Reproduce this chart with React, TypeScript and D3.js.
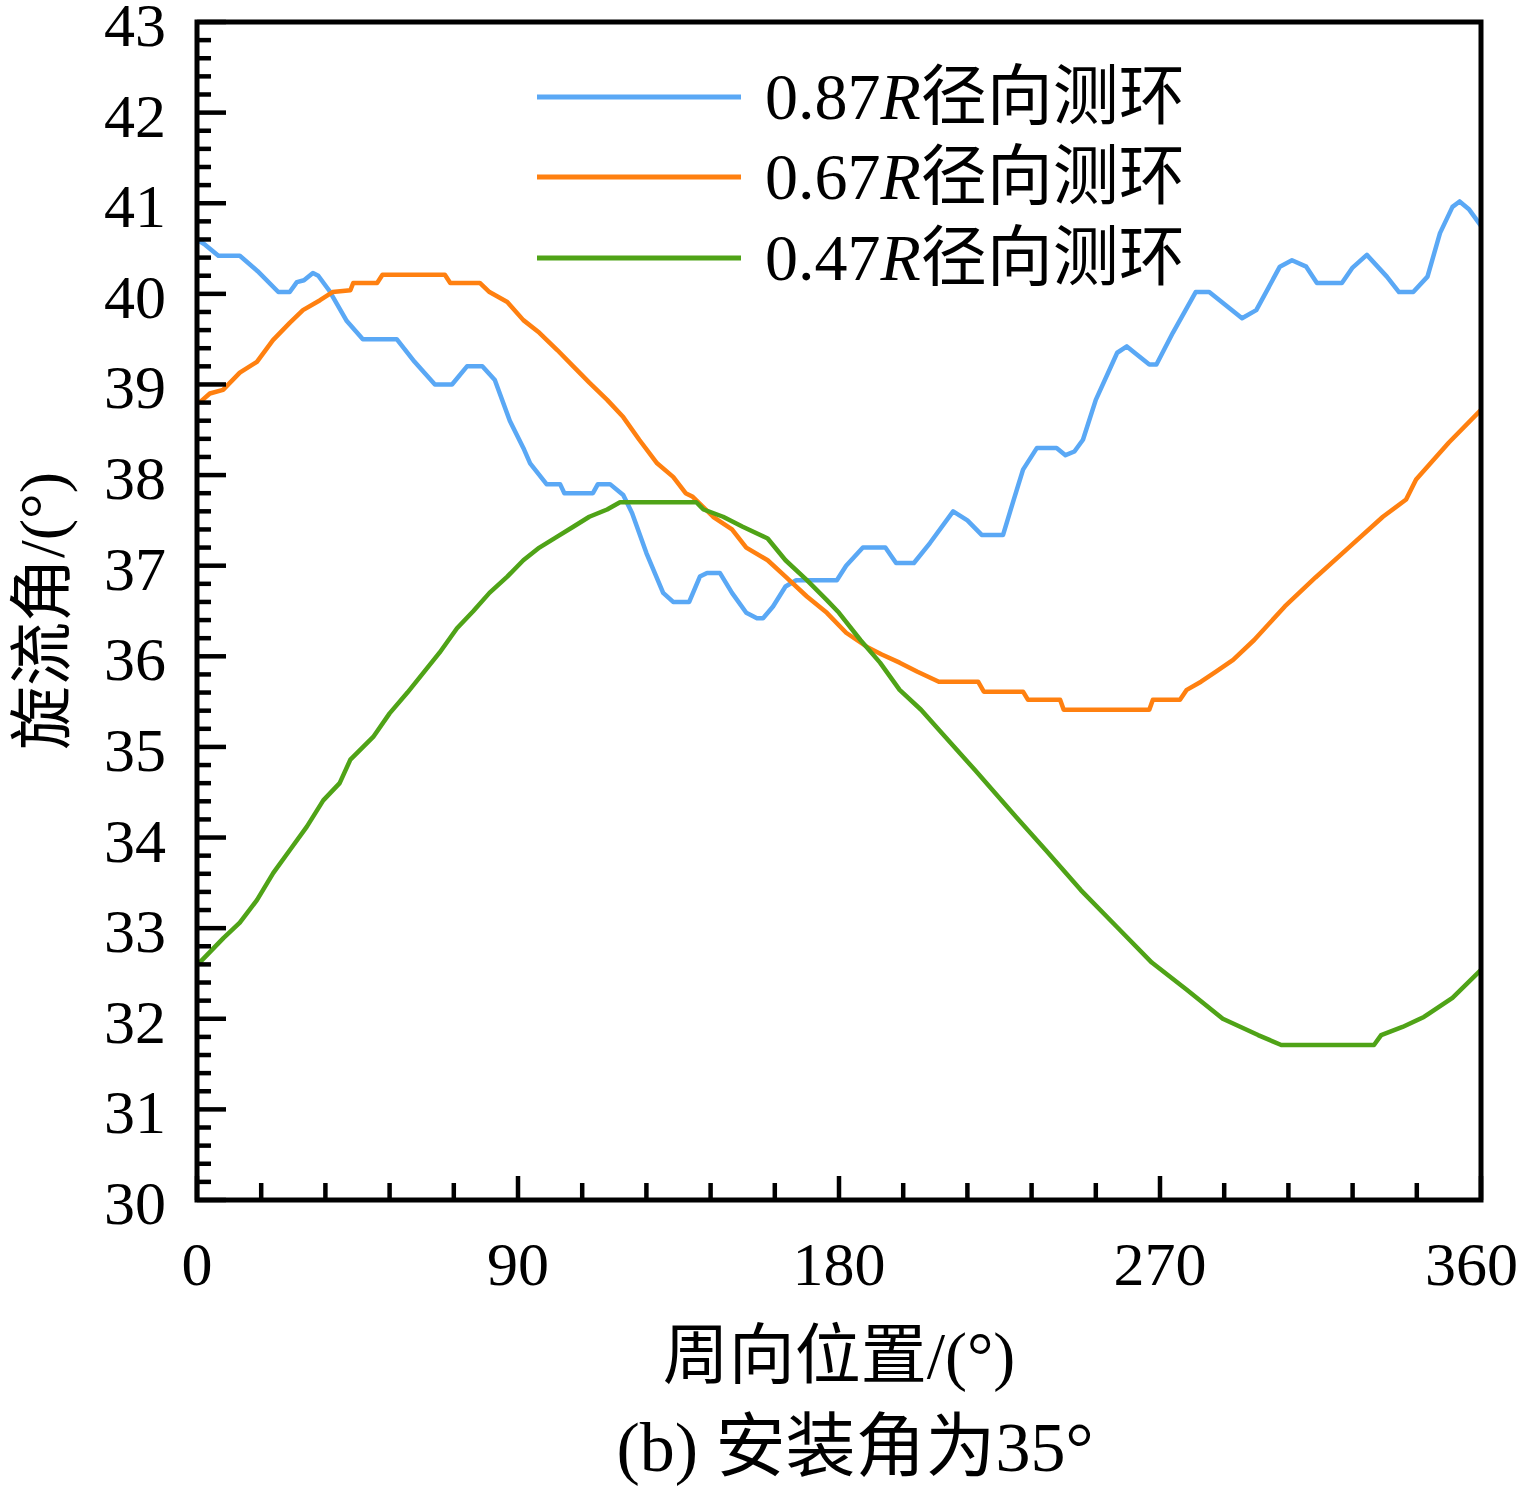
import * as d3 from "d3"

// circumferential position (deg) vs swirl angle (deg)
const ring087: [number, number][] = [
  [0, 40.6], [2, 40.55], [6, 40.42], [12, 40.42], [17, 40.25], [22.8, 40.02], [26, 40.02], [28, 40.13],
  [30, 40.15], [32.5, 40.23], [34, 40.2], [37, 40.04], [42, 39.7], [46.5, 39.5], [56, 39.5], [61, 39.25],
  [66.7, 39.0], [71.5, 39.0], [75.7, 39.2], [80, 39.2], [83.5, 39.05], [87.7, 38.6], [91.5, 38.3],
  [93.4, 38.13], [98, 37.9], [101.8, 37.9], [103, 37.8], [111, 37.8], [112.4, 37.9], [115.8, 37.9],
  [119.5, 37.78], [122, 37.58], [126, 37.14], [130.7, 36.7], [133.5, 36.6], [138, 36.6], [141, 36.88],
  [143, 36.92], [146.6, 36.92], [150, 36.7], [154, 36.48], [157, 36.42], [158.7, 36.42], [161.5, 36.55],
  [165, 36.77], [168, 36.84], [179.4, 36.84], [182, 37.0], [186.7, 37.2], [193, 37.2], [196, 37.03],
  [201, 37.03], [205.5, 37.25], [212, 37.6], [216, 37.5], [220, 37.34], [226, 37.34], [229, 37.73],
  [231.6, 38.06], [235.5, 38.3], [241, 38.3], [243.5, 38.22], [246, 38.26], [248.4, 38.39], [252, 38.83],
  [258, 39.35], [260.7, 39.42], [267, 39.22], [269, 39.22], [273.6, 39.57], [280, 40.02], [283.8, 40.02],
  [293, 39.73], [297, 39.82], [303.6, 40.3], [307, 40.37], [311, 40.3], [314, 40.12], [321, 40.12],
  [324, 40.29], [328, 40.43], [333.6, 40.19], [337, 40.02], [341, 40.02], [345, 40.19], [348.5, 40.67],
  [352, 40.96], [354, 41.02], [356.7, 40.93], [360, 40.75]
]

const ring067: [number, number][] = [
  [0, 38.8], [1, 38.81], [3.6, 38.9], [7.3, 38.94], [12, 39.13], [16.8, 39.25], [21.3, 39.49], [26, 39.68],
  [29.7, 39.82], [34.5, 39.93], [38, 40.02], [43, 40.04], [43.8, 40.12], [50.5, 40.12], [52, 40.21],
  [69.5, 40.21], [71, 40.12], [79.3, 40.12], [82, 40.02], [87, 39.91], [91.5, 39.71], [96, 39.57],
  [101, 39.38], [105.5, 39.2], [110, 39.02], [115, 38.83], [119.5, 38.64], [124, 38.39], [129, 38.13],
  [133.5, 37.98], [137, 37.8], [139, 37.76], [144.7, 37.54], [150, 37.4], [154, 37.2], [160, 37.06],
  [165, 36.88], [171, 36.66], [176.6, 36.48], [182, 36.26], [188, 36.1], [192, 36.02], [197, 35.93],
  [202, 35.83], [208, 35.72], [219, 35.72], [220.6, 35.61], [231.6, 35.61], [233, 35.52], [242, 35.52],
  [243, 35.41], [267, 35.41], [268, 35.52], [275.6, 35.52], [277.5, 35.63], [281.5, 35.72], [285.7, 35.83],
  [290.5, 35.96], [296.4, 36.18], [305, 36.55], [313.6, 36.87], [322.9, 37.2], [332.5, 37.54], [339, 37.73],
  [341.8, 37.95], [351, 38.36], [360, 38.72]
]

const ring047: [number, number][] = [
  [0, 32.6], [1, 32.63], [7.4, 32.89], [12, 33.06], [16.8, 33.31], [21.4, 33.61], [26, 33.86], [30.8, 34.12],
  [35.4, 34.41], [40, 34.6], [43, 34.86], [49.4, 35.11], [54, 35.37], [59, 35.6], [63.5, 35.82], [68, 36.04],
  [72.9, 36.31], [77.5, 36.5], [82, 36.7], [87, 36.88], [91.5, 37.06], [96, 37.2], [101, 37.32],
  [105.5, 37.43], [110, 37.54], [115, 37.62], [118.6, 37.7], [140, 37.7], [142, 37.62], [147.5, 37.54],
  [153, 37.43], [160, 37.3], [165, 37.06], [171, 36.84], [176.6, 36.62], [180, 36.48], [186, 36.18],
  [191.5, 35.93], [197, 35.63], [203, 35.41], [208, 35.19], [218, 34.75], [228, 34.3], [238, 33.86],
  [247.8, 33.42], [258, 33.01], [267.7, 32.62], [277.5, 32.32], [287.6, 32.0], [297.5, 31.82], [304, 31.71],
  [330, 31.71], [332, 31.82], [338, 31.91], [344, 32.02], [352, 32.23], [360, 32.54]
]

const seriesNames = ["0.87", "0.67", "0.47"]
const seriesColors = ["#5aa8f5", "#ff8010", "#4fa317"]
const seriesData = [ring087, ring067, ring047]

const xTickLabels = [0, 90, 180, 270, 360]
const yTickLabels = [30, 31, 32, 33, 34, 35, 36, 37, 38, 39, 40, 41, 42, 43]

const W = 1519
const H = 1489
const margin = { top: 22, right: 38, bottom: 289, left: 197 }
const serif = "'Liberation Serif', 'Times New Roman', 'Noto Sans CJK SC', serif"

export default function App() {
  const x = d3.scaleLinear().domain([0, 360]).range([margin.left, W - margin.right])
  const y = d3.scaleLinear().domain([30, 43]).range([H - margin.bottom, margin.top])
  const line = d3.line<[number, number]>().x(d => x(d[0])).y(d => y(d[1]))

  const x0 = x.range()[0], x1 = x.range()[1]
  const yb = y.range()[0], yt = y.range()[1]

  // minor ticks: 18 deg on x, 0.2 deg on y
  const xMinor = d3.range(0, 361, 18)
  const yMinor = d3.range(0, 66).map(i => 30 + i * 0.2)

  const legendY = [97, 177, 258]

  return (
    <div style={{ position: "absolute", left: 0, top: 0 }}>
      <svg width={W} height={H} style={{ display: "block", background: "#fff" }}>
        {/* series */}
        {seriesData.map((d, i) => (
          <path key={i} d={line(d) ?? ""} fill="none" stroke={seriesColors[i]}
            strokeWidth={4.5} strokeLinejoin="round" />
        ))}

        {/* ticks */}
        {xMinor.map(v => {
          const major = v % 90 === 0
          return <line key={"xt" + v} x1={x(v)} x2={x(v)} y1={yb} y2={yb - (major ? 24 : 17)}
            stroke="#000" strokeWidth={4.5} />
        })}
        {yMinor.map((v, i) => {
          const major = i % 5 === 0
          return <line key={"yt" + i} x1={x0} x2={x0 + (major ? 29 : 14)} y1={y(v)} y2={y(v)}
            stroke="#000" strokeWidth={4.5} />
        })}

        {/* frame */}
        <rect x={x0} y={yt} width={x1 - x0} height={yb - yt} fill="none" stroke="#000" strokeWidth={5} />

        {/* tick labels; the last one is pulled in to stay on the page */}
        {xTickLabels.map((v, i) => {
          const last = i === xTickLabels.length - 1
          return (
            <text key={"xl" + v} x={last ? W - 1 : x(v)} y={1285} textAnchor={last ? "end" : "middle"}
              fontFamily={serif} fontSize={62}>{v}</text>
          )
        })}
        {yTickLabels.map(v => (
          <text key={"yl" + v} x={166} y={y(v) + 24} textAnchor="end" fontFamily={serif} fontSize={62}>{v}</text>
        ))}

        {/* axis titles */}
        <text x={(x0 + x1) / 2} y={1378} textAnchor="middle" fontFamily={serif} fontSize={66}>周向位置/(°)</text>
        <text transform={`translate(64,${(yt + yb) / 2}) rotate(-90)`} textAnchor="middle"
          fontFamily={serif} fontSize={64}>旋流角/(°)</text>
        <text x={855} y={1471} textAnchor="middle" fontFamily={serif} fontSize={70}>(b) 安装角为35°</text>

        {/* legend */}
        {seriesNames.map((name, i) => (
          <g key={"lg" + i}>
            <line x1={537} x2={741} y1={legendY[i]} y2={legendY[i]} stroke={seriesColors[i]} strokeWidth={5} />
            <text x={765} y={legendY[i] + 22} fontFamily={serif} fontSize={66}>
              {name}<tspan fontStyle="italic">R</tspan>径向测环
            </text>
          </g>
        ))}
      </svg>
    </div>
  )
}
